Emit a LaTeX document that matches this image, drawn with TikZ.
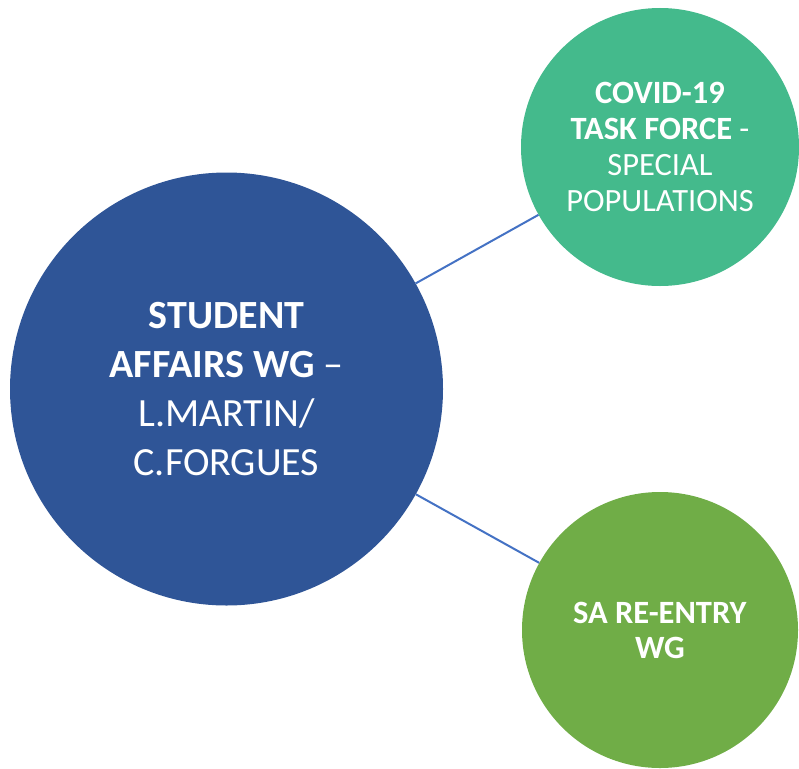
\documentclass[tikz,border=0pt]{standalone}
\usepackage{fontspec}
\setmainfont{Carlito}
\definecolor{wgblue}{HTML}{2F5597}
\definecolor{taskgreen}{HTML}{44BA8C}
\definecolor{entrygreen}{HTML}{70AD47}
\definecolor{linkblue}{HTML}{4472C4}
\begin{document}
\begin{tikzpicture}[x=1pt,y=-1pt,
	every node/.style={circle,inner sep=0,align=center,text=white},
	link/.style={draw=linkblue,line width=2pt}]
\useasboundingbox (0,0) rectangle (799,768);
\node[fill=wgblue,minimum size=433pt,font=\fontsize{40}{49}\selectfont] (wg) at (226.5,389)
	{\textbf{STUDENT}\\\textbf{AFFAIRS WG} --\\L.MARTIN/\\C.FORGUES};
\node[fill=taskgreen,minimum size=278pt,font=\fontsize{32.5}{36}\selectfont] (task) at (660,147)
	{\textbf{COVID-19}\\\textbf{TASK FORCE} -\\SPECIAL\\POPULATIONS};
\node[fill=entrygreen,minimum size=276pt,font=\fontsize{32.5}{35}\selectfont] (entry) at (660,630)
	{\textbf{SA RE-ENTRY}\\\textbf{WG}};
\draw[link] (wg) -- (task);
\draw[link] (wg) -- (entry);
\end{tikzpicture}
\end{document}
